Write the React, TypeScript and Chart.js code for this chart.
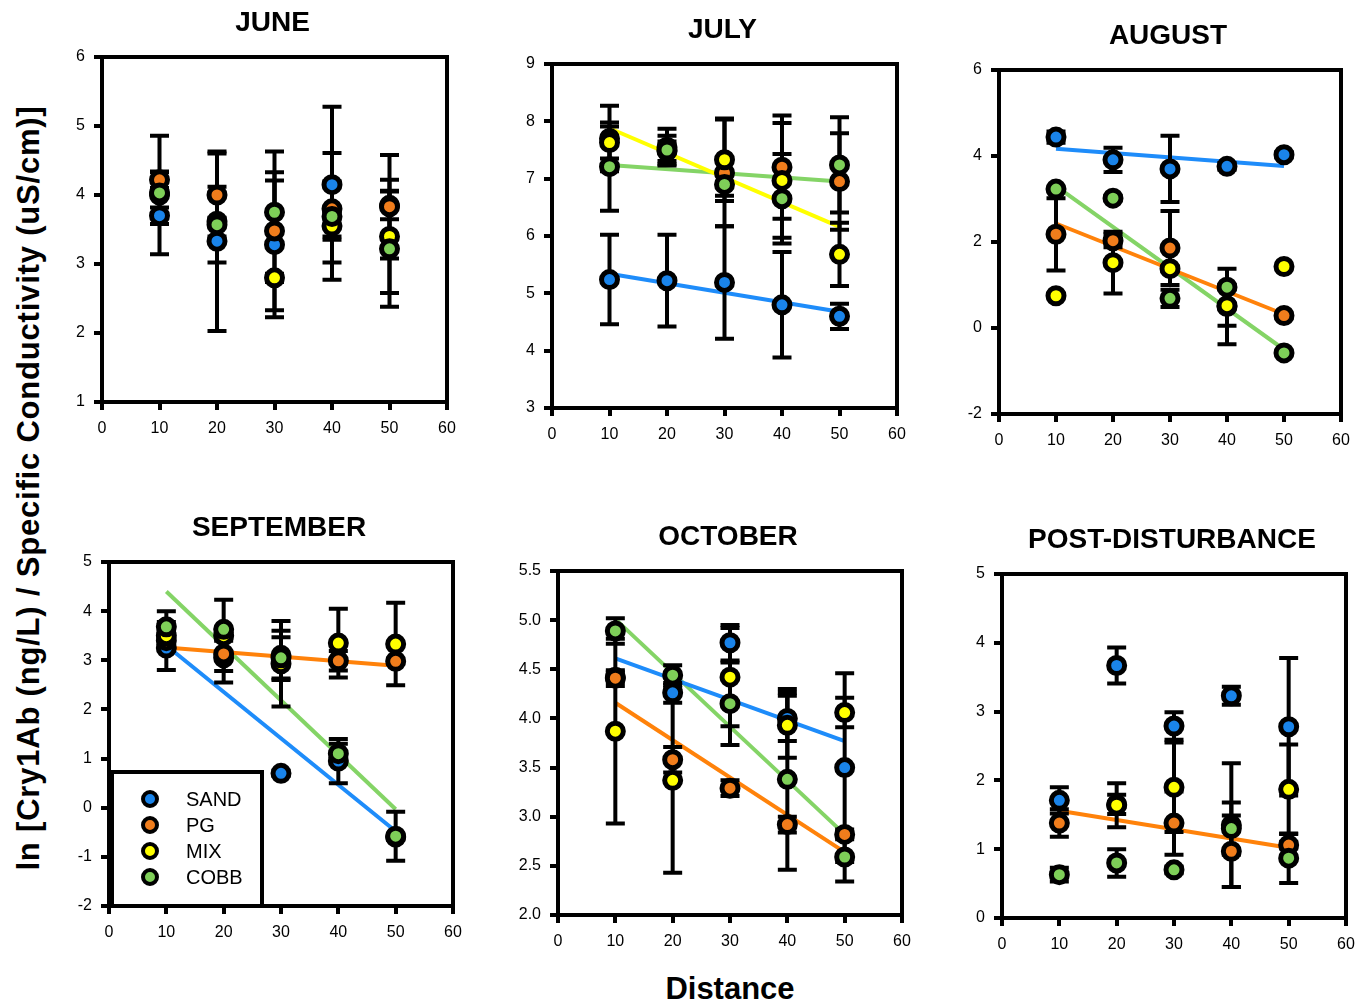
import React, { useEffect, useRef } from "react";
import { Chart, registerables } from "chart.js";

Chart.register(...registerables);

const FONT = "'Liberation Sans', Arial, Helvetica, sans-serif";

// ---------- data ----------
const distances = [10, 20, 30, 40, 50];
const seriesNames = ["SAND", "PG", "MIX", "COBB"];
const markerColors = ["#1a84ea", "#f07d1c", "#ffff00", "#7ecf58"];
const trendColors = ["#1e8cfa", "#ff820a", "#ffff00", "#84d466"];

// each panel: rows = SAND, PG, MIX, COBB ; columns = distances
const juneValues = [
  [3.7, 3.33, 3.28, 4.15, 3.85],
  [4.22, 4.0, 3.48, 3.8, 3.83],
  [4.0, 3.62, 2.8, 3.55, 3.4],
  [4.03, 3.57, 3.75, 3.69, 3.22],
];
const juneErrors = [
  [0.12, 1.3, 1.05, 1.13, 0.2],
  [0.12, 0.6, 1.15, 0.4, 0.75],
  [0.86, 0.05, 0.06, 0.2, 0.82],
  [0.3, 0.55, 0.46, 0.92, 0.84],
];
const juneTrends = [null, null, null, null];

const julyValues = [
  [5.24, 5.22, 5.19, 4.8, 4.6],
  [7.7, 7.55, 7.1, 7.2, 6.95],
  [7.63, 7.48, 7.33, 6.97, 5.68],
  [7.21, 7.5, 6.9, 6.65, 7.24],
];
const julyErrors = [
  [0.78, 0.8, 0.98, 0.92, 0.22],
  [0.57, 0.32, 0.93, 0.9, 0.84],
  [0.28, 0.17, 0.72, 1.0, 0.55],
  [0.77, 0.25, 0.2, 0.78, 0.83],
];
const julyTrends = [[5.34, 4.68], null, [7.88, 6.16], [7.24, 6.95]];

const augustValues = [
  [4.44, 3.91, 3.7, 3.76, 4.03],
  [2.18, 2.03, 1.86, 0.5, 0.29],
  [0.75, 1.52, 1.38, 0.52, 1.43],
  [3.23, 3.02, 0.69, 0.95, -0.58],
];
const augustErrors = [
  [0.13, 0.28, 0.77, 0.08, 0.06],
  [0.84, 0.15, 0.86, 0.88, 0.05],
  [0, 0.72, 0.05, 0.47, 0],
  [0, 0.05, 0.2, 0.05, 0],
];
const augustTrends = [[4.17, 3.77], [2.43, 0.32], null, [3.3, -0.5]];

const septemberValues = [
  [3.25, 3.05, 0.7, 0.95, -0.6],
  [3.4, 3.13, 3.1, 2.99, 2.98],
  [3.5, 3.5, 2.93, 3.35, 3.33],
  [3.68, 3.63, 3.05, 1.1, -0.58],
];
const septemberErrors = [
  [0.05, 0.5, 0.05, 0.45, 0.05],
  [0.6, 0.35, 0.5, 0.2, 0.05],
  [0.1, 0.1, 0.87, 0.7, 0.84],
  [0.1, 0.6, 0.42, 0.2, 0.5],
];
const septemberTrends = [[3.3, -0.48], [3.26, 2.89], null, [4.4, -0.03]];

const octoberValues = [
  [4.42, 4.26, 4.77, 4.0, 3.5],
  [4.41, 3.58, 3.29, 2.92, 2.82],
  [3.87, 3.37, 4.42, 3.93, 4.06],
  [4.89, 4.44, 4.15, 3.38, 2.59],
];
const octoberErrors = [
  [0.05, 0.1, 0.18, 0.23, 0.96],
  [0.08, 0.13, 0.08, 0.08, 0.05],
  [0.94, 0.94, 0.5, 0.33, 0.15],
  [0.13, 0.1, 0.42, 0.92, 0.25],
];
const octoberTrends = [[4.61, 3.77], [4.16, 2.64], null, [5.01, 2.82]];

const postValues = [
  [1.71, 3.67, 2.79, 3.23, 2.78],
  [1.38, 1.65, 1.38, 0.97, 1.06],
  [null, 1.64, 1.9, 1.35, 1.87],
  [0.63, 0.8, 0.7, 1.3, 0.87],
];
const postErrors = [
  [0.19, 0.26, 0.2, 0.13, 1.0],
  [0.2, 0.14, 0.46, 0.52, 0.05],
  [0, 0.32, 0.65, 0.9, 0.65],
  [0.1, 0.2, 0.05, 0.38, 0.36],
];
const postTrends = [null, [1.56, 1.02], null, null];

const xTicks = [0, 60, 10];
const yTicksJune = [1, 6, 1];
const yTicksJuly = [3, 9, 1];
const yTicksAugust = [-2, 6, 2];
const yTicksSeptember = [-2, 5, 1];
const yTicksOctober = [2, 5.5, 0.5];
const yTicksPost = [0, 5, 1];

// ---------- layout (pixel boxes of plot areas: left, top, right, bottom) ----------
const PAD_TOP = 56;
const PAD_RIGHT = 20;
const Y_AXIS_W = 50;
const X_AXIS_H = 40;

const panels = [
  { title: "JUNE", values: juneValues, errors: juneErrors, trends: juneTrends, yt: yTicksJune, dec: 0, box: [102, 57, 447, 402], legend: false },
  { title: "JULY", values: julyValues, errors: julyErrors, trends: julyTrends, yt: yTicksJuly, dec: 0, box: [552, 64, 897, 408], legend: false },
  { title: "AUGUST", values: augustValues, errors: augustErrors, trends: augustTrends, yt: yTicksAugust, dec: 0, box: [999, 70, 1341, 414], legend: false },
  { title: "SEPTEMBER", values: septemberValues, errors: septemberErrors, trends: septemberTrends, yt: yTicksSeptember, dec: 0, box: [109, 562, 453, 906], legend: true },
  { title: "OCTOBER", values: octoberValues, errors: octoberErrors, trends: octoberTrends, yt: yTicksOctober, dec: 1, box: [558, 571, 902, 915], legend: false },
  { title: "POST-DISTURBANCE", values: postValues, errors: postErrors, trends: postTrends, yt: yTicksPost, dec: 0, box: [1002, 574, 1346, 918], legend: false },
];

// ---------- plugins ----------
function makeFramePlugin(title: string) {
  return {
    id: "frameTitle",
    beforeDatasetsDraw(chart: any) {
      const { ctx, chartArea: a } = chart;
      ctx.save();
      ctx.strokeStyle = "#000";
      ctx.lineWidth = 4;
      ctx.strokeRect(a.left, a.top, a.right - a.left, a.bottom - a.top);
      ctx.restore();
    },
    afterDraw(chart: any) {
      const { ctx, chartArea: a } = chart;
      ctx.save();
      ctx.fillStyle = "#000";
      ctx.font = `bold 28px ${FONT}`;
      ctx.textAlign = "center";
      ctx.textBaseline = "alphabetic";
      ctx.fillText(title, (a.left + a.right) / 2 - 2, a.top - 26);
      ctx.restore();
    },
  };
}

function makeErrorBarPlugin(values: (number | null)[][], errors: number[][]) {
  return {
    id: "errorBars",
    beforeDatasetDraw(chart: any, args: any) {
      const ds = chart.data.datasets[args.index];
      if (!ds || !ds.errorBarsHere) return;
      const { ctx } = chart;
      const xs = chart.scales.x;
      const ys = chart.scales.y;
      ctx.save();
      ctx.strokeStyle = "#000";
      ctx.lineWidth = 4;
      ctx.lineCap = "butt";
      values.forEach((series, s) => {
        series.forEach((v, j) => {
          const e = errors[s][j];
          if (v == null || !e) return;
          const px = xs.getPixelForValue(distances[j]);
          const pt = ys.getPixelForValue(v + e);
          const pb = ys.getPixelForValue(v - e);
          ctx.beginPath();
          ctx.moveTo(px, pt);
          ctx.lineTo(px, pb);
          ctx.moveTo(px - 9.5, pt);
          ctx.lineTo(px + 9.5, pt);
          ctx.moveTo(px - 9.5, pb);
          ctx.lineTo(px + 9.5, pb);
          ctx.stroke();
        });
      });
      ctx.restore();
    },
  };
}

const legendPlugin = {
  id: "boxLegend",
  afterDatasetsDraw(chart: any) {
    const { ctx, chartArea: a } = chart;
    const left = a.left + 3;
    const top = a.bottom - 134;
    const w = 150;
    const h = 134;
    ctx.save();
    ctx.fillStyle = "#fff";
    ctx.fillRect(left, top, w, h);
    ctx.strokeStyle = "#000";
    ctx.lineWidth = 4;
    ctx.strokeRect(left, top, w, h);
    const rows = [27, 53, 79, 105];
    seriesNames.forEach((name, i) => {
      const cy = top + rows[i];
      ctx.beginPath();
      ctx.arc(left + 38, cy, 7, 0, Math.PI * 2);
      ctx.fillStyle = markerColors[i];
      ctx.fill();
      ctx.lineWidth = 4;
      ctx.strokeStyle = "#000";
      ctx.stroke();
      ctx.fillStyle = "#000";
      ctx.font = `20px ${FONT}`;
      ctx.textAlign = "left";
      ctx.textBaseline = "middle";
      ctx.fillText(name, left + 74, cy + 1);
    });
    ctx.restore();
  },
};

// ---------- components ----------
function Panel({ p }: { p: (typeof panels)[number] }) {
  const ref = useRef<HTMLCanvasElement | null>(null);
  const [L, T, R, B] = p.box;
  const width = R - L + Y_AXIS_W + PAD_RIGHT;
  const height = B - T + PAD_TOP + X_AXIS_H;

  useEffect(() => {
    if (!ref.current) return;
    const datasets: any[] = [];
    p.trends.forEach((tr, s) => {
      if (!tr) return;
      datasets.push({
        type: "line",
        label: seriesNames[s] + " trend",
        data: [
          { x: distances[0], y: tr[0] },
          { x: distances[distances.length - 1], y: tr[1] },
        ],
        borderColor: trendColors[s],
        borderWidth: 4,
        pointRadius: 0,
        fill: false,
        order: 10,
      });
    });
    p.values.forEach((series, s) => {
      datasets.push({
        type: "scatter",
        label: seriesNames[s],
        data: series.map((v, j) => ({ x: distances[j], y: v })),
        backgroundColor: markerColors[s],
        borderColor: "#000",
        pointRadius: 8,
        pointHoverRadius: 8,
        pointBorderWidth: 5,
        order: 3 - s,
        errorBarsHere: s === 0,
      });
    });

    const tickFont = { family: FONT, size: 16 };
    const grid = {
      display: true,
      drawOnChartArea: false,
      drawTicks: true,
      tickLength: 8,
      tickWidth: 4,
      lineWidth: 4,
      tickColor: "#000",
      color: "#000",
    };
    const plugins: any[] = [makeErrorBarPlugin(p.values, p.errors), makeFramePlugin(p.title)];
    if (p.legend) plugins.push(legendPlugin);

    const chart = new Chart(ref.current, {
      type: "scatter",
      data: { datasets },
      options: {
        animation: false,
        responsive: false,
        events: [],
        layout: { padding: { top: PAD_TOP, right: PAD_RIGHT, left: 0, bottom: 0 } },
        plugins: { legend: { display: false }, tooltip: { enabled: false }, title: { display: false } },
        scales: {
          x: {
            type: "linear",
            min: xTicks[0],
            max: xTicks[1],
            ticks: { stepSize: xTicks[2], color: "#000", font: tickFont, padding: 9, autoSkip: false, maxRotation: 0 },
            grid,
            border: { display: false },
            afterFit: (s: any) => {
              s.height = X_AXIS_H;
            },
          },
          y: {
            type: "linear",
            min: p.yt[0],
            max: p.yt[1],
            ticks: {
              stepSize: p.yt[2],
              color: "#000",
              font: tickFont,
              padding: 9,
              autoSkip: false,
              callback: (v: any) => Number(v).toFixed(p.dec),
            },
            grid,
            border: { display: false },
            afterFit: (s: any) => {
              s.width = Y_AXIS_W;
            },
          },
        },
      } as any,
      plugins,
    });
    return () => chart.destroy();
  }, []);

  return (
    <div
      style={{
        position: "absolute",
        left: L - Y_AXIS_W,
        top: T - PAD_TOP,
        width,
        height,
      }}
    >
      <canvas ref={ref} width={width} height={height} style={{ width, height, display: "block" }} />
    </div>
  );
}

export default function App() {
  return (
    <div
      style={{
        position: "absolute",
        left: 0,
        top: 0,
        width: 1367,
        height: 1004,
        overflow: "hidden",
        background: "#fff",
        fontFamily: FONT,
      }}
    >
      {panels.map((p) => (
        <Panel key={p.title} p={p} />
      ))}
      <div
        style={{
          position: "absolute",
          left: 28,
          top: 488,
          transform: "translate(-50%, -50%) rotate(-90deg)",
          whiteSpace: "nowrap",
          font: `bold 31px ${FONT}`,
          lineHeight: "31px",
          letterSpacing: "0.8px",
          color: "#000",
        }}
      >
        ln [Cry1Ab (ng/L) / Specific Conductivity (uS/cm)]
      </div>
      <div
        style={{
          position: "absolute",
          left: 730,
          top: 973,
          transform: "translateX(-50%)",
          whiteSpace: "nowrap",
          font: `bold 31px ${FONT}`,
          lineHeight: "31px",
          color: "#000",
        }}
      >
        Distance
      </div>
    </div>
  );
}
